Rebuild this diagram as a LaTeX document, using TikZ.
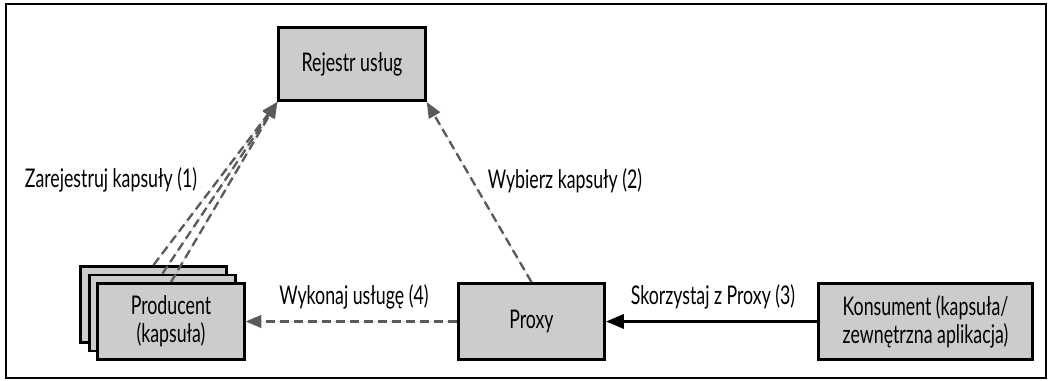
\documentclass[tikz,border=0pt]{standalone}
\usepackage{fontspec}
\setmainfont[FakeStretch=0.69]{Lato}
\usepackage{tikz}
\usetikzlibrary{arrows,backgrounds}

\definecolor{boxgray}{HTML}{CCCCCC}
\definecolor{linegray}{HTML}{5A5A5A}

\tikzset{
  usluga/.style={rectangle,draw,line width=2.1pt,fill=boxgray,align=center,
    minimum width=110pt,minimum height=57pt,inner sep=2pt,font=\fontsize{19.3}{21}\selectfont},
  opis/.style={font=\fontsize{19.3}{21}\selectfont,inner sep=0pt},
  przerywana/.style={draw=linegray,line width=1.75pt,dash pattern=on 6.75pt off 3.75pt,-triangle 45,fill=linegray}
}

\begin{document}
\begin{tikzpicture}[x=0.75pt,y=-0.75pt]
      \useasboundingbox (0,0) rectangle (1051,381);
      \draw [line width=1.6pt] (6,4) rectangle (1046,378);
      \node (rejestr) at (352,64) [usluga,minimum height=55pt] {Rejestr usług};
      \node (prodA) at (153.5,304.5) [usluga] {};
      \node (prodB) at (162.5,313) [usluga] {};
      \node (prod) at (171,321.5) [usluga] {Producent\\(kapsuła)};
      \node (proxy) at (531.5,321.5) [usluga] {Proxy};
      \node (konsument) at (925.5,321.5) [usluga,minimum width=161pt] {Konsument (kapsuła/\\zewnętrzna aplikacja)};
      \draw [przerywana](prodA.north)--(rejestr.south west);
      \draw [przerywana](prodB.north)--(rejestr.south west);
      \draw [przerywana](prod.north)--(rejestr.south west);
      \draw [przerywana](proxy.north)--(rejestr.south east);
      \draw [przerywana](proxy.west)--(prod.east);
      \draw [line width=2.1pt,-triangle 45](konsument.west)--(proxy.east);
      \node (rej1) at (111,180) [opis] {Zarejestruj kapsuły (1)};
      \node (wyb2) at (565,181) [opis] {Wybierz kapsuły (2)};
      \node (wyk4) at (354,297) [opis] {Wykonaj usługę (4)};
      \node (sko3) at (713,297) [opis] {Skorzystaj z Proxy (3)};
    \end{tikzpicture}
\end{document}
